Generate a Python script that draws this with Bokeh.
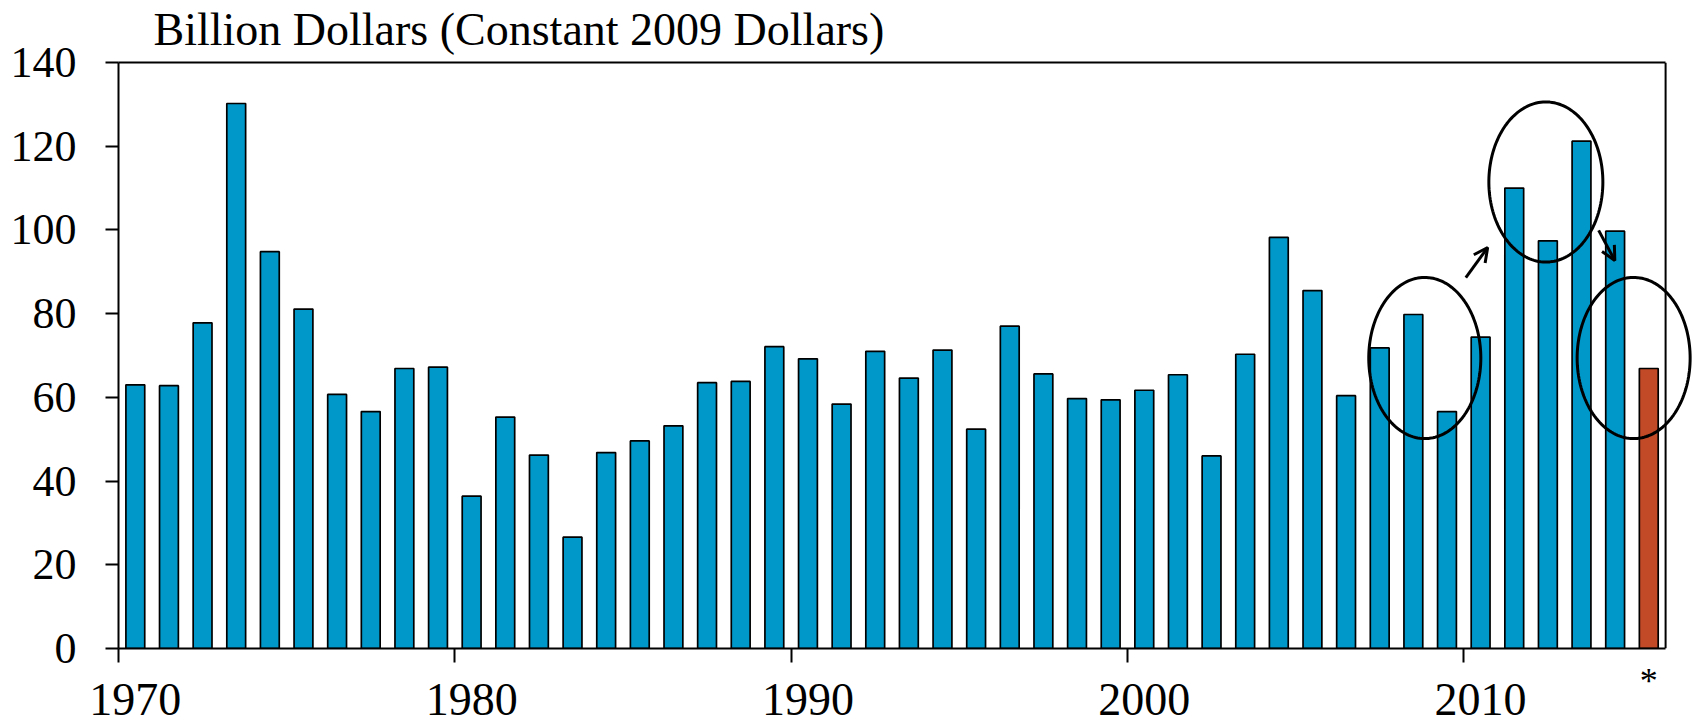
from bokeh.plotting import figure
from bokeh.models import (ColumnDataSource, FixedTicker, LinearAxis, Span,
                          Arrow, OpenHead, PolyAnnotation)
from bokeh.embed import file_html
from bokeh.resources import INLINE
import numpy as np

# ---- data -------------------------------------------------------------
years = list(range(1970, 2016))
values = [63.0, 62.8, 77.8, 130.2, 94.8, 81.1, 60.7, 56.6, 66.9, 67.2,
          36.4, 55.3, 46.2, 26.6, 46.8, 49.6, 53.2, 63.5, 63.8, 72.1,
          69.2, 58.4, 71.0, 64.6, 71.3, 52.4, 77.0, 65.6, 59.7, 59.4,
          61.7, 65.4, 46.0, 70.3, 98.2, 85.5, 60.4, 71.8, 79.8, 56.6,
          74.4, 110.0, 97.4, 121.2, 99.7, 66.9]
estimated_years = [2015]
label_years = [1970, 1980, 1990, 2000, 2010]
y_ticks = [0, 20, 40, 60, 80, 100, 120, 140]
title_text = "Billion Dollars (Constant 2009 Dollars)"

BLUE = "#0097C9"
ORANGE = "#C34A26"
SERIF = "Liberation Serif"

colors = [ORANGE if y in estimated_years else BLUE for y in years]
src = ColumnDataSource(dict(x=years, top=values, color=colors))

x0, x1 = years[0] - 0.5, years[-1] + 0.5
x_extra = 0.80   # room right of the border for the last ellipse

p = figure(width=1694, height=729, x_range=(x0, x1 + x_extra), y_range=(0, 140),
           output_backend="svg", toolbar_location=None, title=title_text,
           styles={"margin-top": "-8px"})
p.min_border_left = 118
p.min_border_right = 2
p.min_border_top = 70
p.min_border_bottom = 73
p.background_fill_color = "white"
p.border_fill_color = "white"
p.outline_line_color = None
p.xgrid.visible = False
p.ygrid.visible = False

p.title.text_font = SERIF
p.title.text_font_size = "46px"
p.title.text_font_style = "normal"
p.title.text_color = "black"
p.title.align = "left"
p.title.offset = 35
p.title.standoff = 15

p.vbar(x="x", top="top", bottom=0, width=0.56, source=src,
       fill_color="color", line_color="black", line_width=1.7)

# y axis
ya = p.yaxis[0]
ya.ticker = FixedTicker(ticks=y_ticks)
ya.axis_line_color = "black"
ya.axis_line_width = 2
ya.major_tick_line_width = 2
ya.major_tick_out = 13
ya.major_tick_in = 0
ya.minor_tick_line_color = None
ya.major_label_standoff = 29
ya.major_label_text_font = SERIF
ya.major_label_text_font_size = "44px"
ya.major_label_text_color = "black"

# x axis: tick marks at decade boundaries (minor), "*" under the estimate
xa = p.xaxis[0]
xa.bounds = (x0, x1)
xa.ticker = FixedTicker(ticks=estimated_years,
                        minor_ticks=[y - 0.5 for y in label_years])
xa.major_label_overrides = {y: "*" for y in estimated_years}
xa.axis_line_color = "black"
xa.axis_line_width = 2
xa.major_tick_line_color = None
xa.major_tick_out = 0
xa.major_tick_in = 0
xa.minor_tick_line_color = "black"
xa.minor_tick_line_width = 2
xa.minor_tick_out = 14
xa.minor_tick_in = 0
xa.major_label_standoff = -2
xa.major_label_text_font = SERIF
xa.major_label_text_font_size = "36px"
xa.major_label_text_color = "black"

# x axis: decade labels centred on the bars
xa2 = LinearAxis(ticker=FixedTicker(ticks=label_years))
xa2.axis_line_color = None
xa2.major_tick_line_color = None
xa2.minor_tick_line_color = None
xa2.major_label_standoff = -26
xa2.major_label_text_font = SERIF
xa2.major_label_text_font_size = "46px"
xa2.major_label_text_color = "black"
p.add_layout(xa2, "below")

# top border of the chart box
xa_top = LinearAxis(ticker=FixedTicker(ticks=[]), bounds=(x0, x1))
xa_top.axis_line_color = "black"
xa_top.axis_line_width = 2
xa_top.major_tick_line_color = None
xa_top.minor_tick_line_color = None
xa_top.major_tick_out = 0
xa_top.major_label_standoff = 0
p.add_layout(xa_top, "above")

# right border of the chart box
p.add_layout(Span(location=x1, dimension="height", line_color="black",
                  line_width=2))

# ellipses (annotation shapes)
t = np.linspace(0, 2 * np.pi, 160)
for cx, cy, rx, ry in [(2008.34, 69.4, 1.666, 19.25),
                       (2011.94, 111.45, 1.695, 19.13),
                       (2014.55, 69.4, 1.68, 19.25)]:
    p.add_layout(PolyAnnotation(xs=list(cx + rx * np.cos(t)),
                                ys=list(cy + ry * np.sin(t)),
                                xs_units="data", ys_units="data",
                                fill_color=None, fill_alpha=0,
                                line_color="black", line_alpha=1.0,
                                line_width=3))

# arrows
for xs_, ys_, xe, ye in [(2009.56, 88.6, 2010.21, 95.8),
                         (2013.51, 99.9, 2013.99, 92.7)]:
    p.add_layout(Arrow(end=OpenHead(size=14, line_width=3, line_color="black"),
                       x_start=xs_, y_start=ys_, x_end=xe, y_end=ye,
                       line_width=3, line_color="black"))

open("out.html", "w").write(file_html(p, INLINE))
